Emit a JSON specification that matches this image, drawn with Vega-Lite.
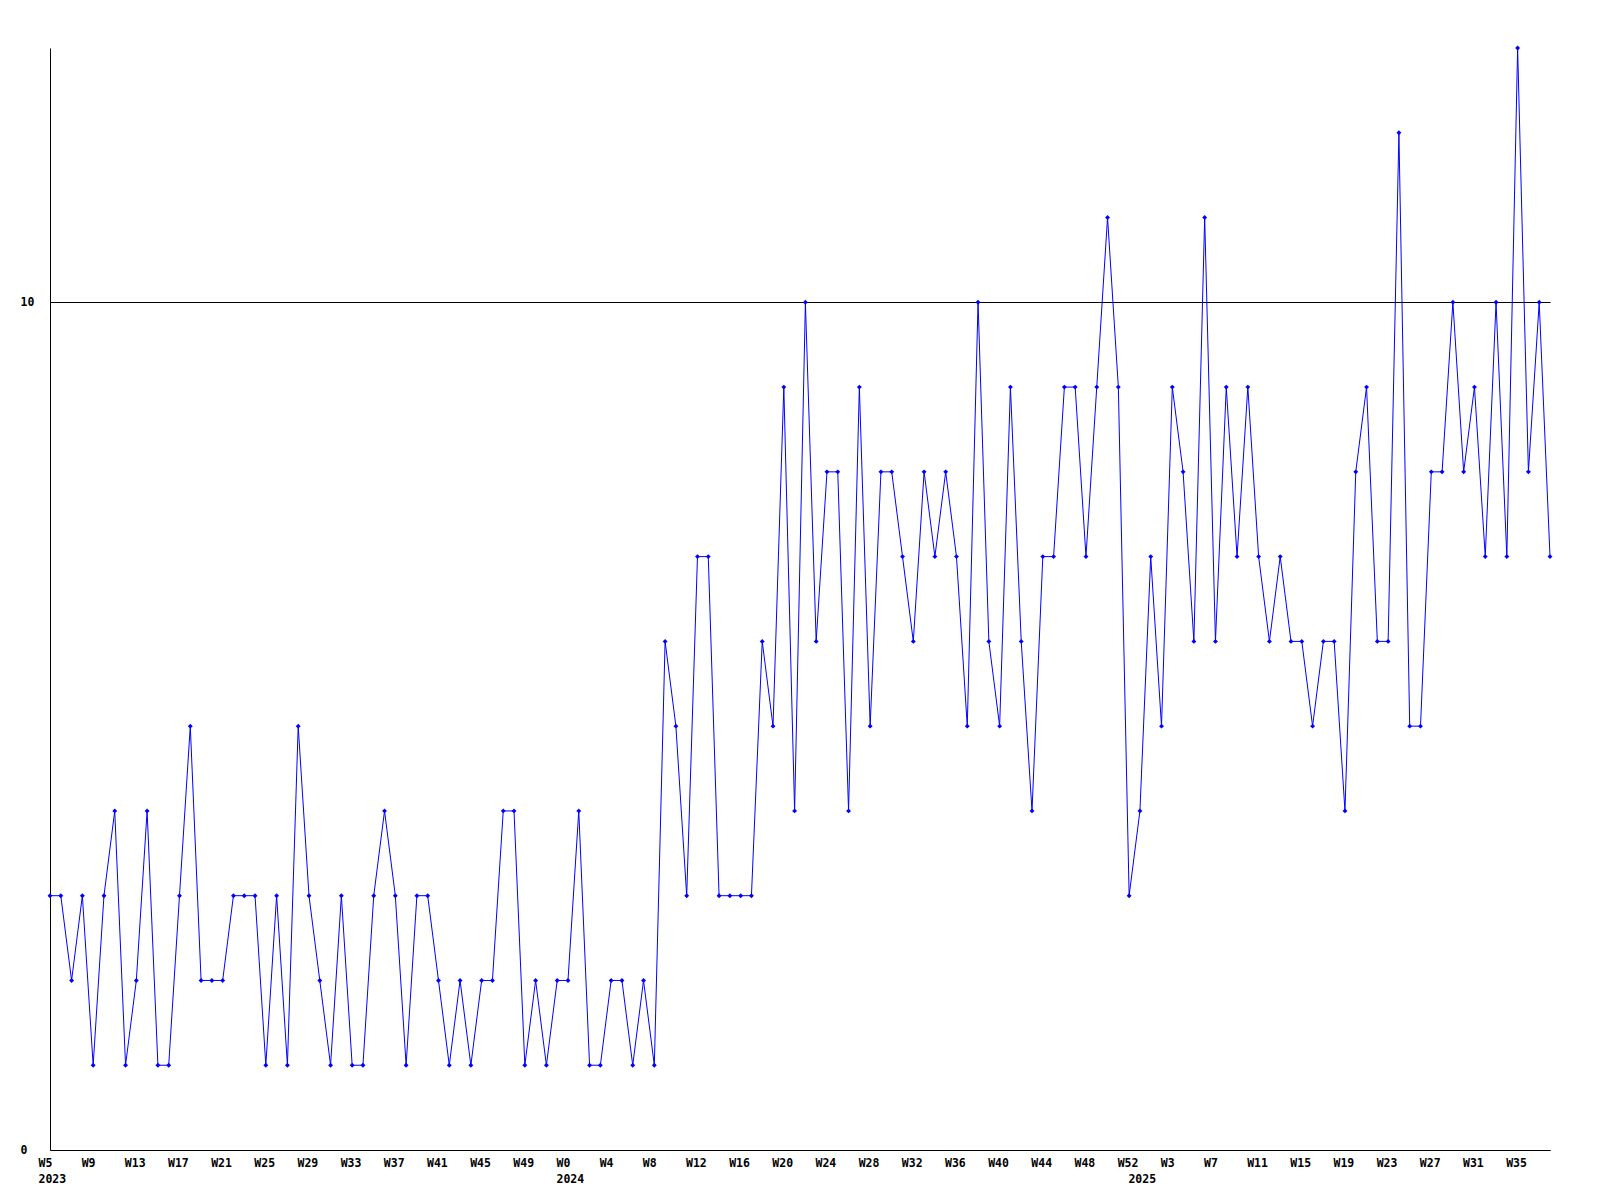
{
  "$schema": "https://vega.github.io/schema/vega-lite/v6.json",
  "autosize": "none",
  "width": 1500,
  "height": 1102,
  "padding": {"left": 50, "top": 48, "right": 50, "bottom": 50},
  "background": "white",
  "config": {"view": {"stroke": null}},
  "data": {"values": [
    {"week":"2023-W05","v":3},{"week":"2023-W06","v":3},{"week":"2023-W07","v":2},{"week":"2023-W08","v":3},{"week":"2023-W09","v":1},
    {"week":"2023-W10","v":3},{"week":"2023-W11","v":4},{"week":"2023-W12","v":1},{"week":"2023-W13","v":2},{"week":"2023-W14","v":4},
    {"week":"2023-W15","v":1},{"week":"2023-W16","v":1},{"week":"2023-W17","v":3},{"week":"2023-W18","v":5},{"week":"2023-W19","v":2},
    {"week":"2023-W20","v":2},{"week":"2023-W21","v":2},{"week":"2023-W22","v":3},{"week":"2023-W23","v":3},{"week":"2023-W24","v":3},
    {"week":"2023-W25","v":1},{"week":"2023-W26","v":3},{"week":"2023-W27","v":1},{"week":"2023-W28","v":5},{"week":"2023-W29","v":3},
    {"week":"2023-W30","v":2},{"week":"2023-W31","v":1},{"week":"2023-W32","v":3},{"week":"2023-W33","v":1},{"week":"2023-W34","v":1},
    {"week":"2023-W35","v":3},{"week":"2023-W36","v":4},{"week":"2023-W37","v":3},{"week":"2023-W38","v":1},{"week":"2023-W39","v":3},
    {"week":"2023-W40","v":3},{"week":"2023-W41","v":2},{"week":"2023-W42","v":1},{"week":"2023-W43","v":2},{"week":"2023-W44","v":1},
    {"week":"2023-W45","v":2},{"week":"2023-W46","v":2},{"week":"2023-W47","v":4},{"week":"2023-W48","v":4},{"week":"2023-W49","v":1},
    {"week":"2023-W50","v":2},{"week":"2023-W51","v":1},{"week":"2023-W52","v":2},
    {"week":"2024-W00","v":2},{"week":"2024-W01","v":4},{"week":"2024-W02","v":1},{"week":"2024-W03","v":1},{"week":"2024-W04","v":2},
    {"week":"2024-W05","v":2},{"week":"2024-W06","v":1},{"week":"2024-W07","v":2},{"week":"2024-W08","v":1},{"week":"2024-W09","v":6},
    {"week":"2024-W10","v":5},{"week":"2024-W11","v":3},{"week":"2024-W12","v":7},{"week":"2024-W13","v":7},{"week":"2024-W14","v":3},
    {"week":"2024-W15","v":3},{"week":"2024-W16","v":3},{"week":"2024-W17","v":3},{"week":"2024-W18","v":6},{"week":"2024-W19","v":5},
    {"week":"2024-W20","v":9},{"week":"2024-W21","v":4},{"week":"2024-W22","v":10},{"week":"2024-W23","v":6},{"week":"2024-W24","v":8},
    {"week":"2024-W25","v":8},{"week":"2024-W26","v":4},{"week":"2024-W27","v":9},{"week":"2024-W28","v":5},{"week":"2024-W29","v":8},
    {"week":"2024-W30","v":8},{"week":"2024-W31","v":7},{"week":"2024-W32","v":6},{"week":"2024-W33","v":8},{"week":"2024-W34","v":7},
    {"week":"2024-W35","v":8},{"week":"2024-W36","v":7},{"week":"2024-W37","v":5},{"week":"2024-W38","v":10},{"week":"2024-W39","v":6},
    {"week":"2024-W40","v":5},{"week":"2024-W41","v":9},{"week":"2024-W42","v":6},{"week":"2024-W43","v":4},{"week":"2024-W44","v":7},
    {"week":"2024-W45","v":7},{"week":"2024-W46","v":9},{"week":"2024-W47","v":9},{"week":"2024-W48","v":7},{"week":"2024-W49","v":9},
    {"week":"2024-W50","v":11},{"week":"2024-W51","v":9},{"week":"2024-W52","v":3},
    {"week":"2025-W00","v":4},{"week":"2025-W01","v":7},{"week":"2025-W02","v":5},{"week":"2025-W03","v":9},{"week":"2025-W04","v":8},
    {"week":"2025-W05","v":6},{"week":"2025-W06","v":11},{"week":"2025-W07","v":6},{"week":"2025-W08","v":9},{"week":"2025-W09","v":7},
    {"week":"2025-W10","v":9},{"week":"2025-W11","v":7},{"week":"2025-W12","v":6},{"week":"2025-W13","v":7},{"week":"2025-W14","v":6},
    {"week":"2025-W15","v":6},{"week":"2025-W16","v":5},{"week":"2025-W17","v":6},{"week":"2025-W18","v":6},{"week":"2025-W19","v":4},
    {"week":"2025-W20","v":8},{"week":"2025-W21","v":9},{"week":"2025-W22","v":6},{"week":"2025-W23","v":6},{"week":"2025-W24","v":12},
    {"week":"2025-W25","v":5},{"week":"2025-W26","v":5},{"week":"2025-W27","v":8},{"week":"2025-W28","v":8},{"week":"2025-W29","v":10},
    {"week":"2025-W30","v":8},{"week":"2025-W31","v":9},{"week":"2025-W32","v":7},{"week":"2025-W33","v":10},{"week":"2025-W34","v":7},
    {"week":"2025-W35","v":13},{"week":"2025-W36","v":8},{"week":"2025-W37","v":10},{"week":"2025-W38","v":7}
  ]},
  "mark": {
    "type": "line",
    "color": "#0000ff",
    "strokeWidth": 1,
    "point": {"shape": "diamond", "size": 24, "filled": true, "color": "#0000ff"}
  },
  "encoding": {
    "x": {
      "field": "week",
      "type": "ordinal",
      "scale": {"type": "point", "padding": 0},
      "axis": {
        "title": null,
        "values": ["2023-W05","2023-W09","2023-W13","2023-W17","2023-W21","2023-W25","2023-W29","2023-W33","2023-W37","2023-W41","2023-W45","2023-W49",
                   "2024-W00","2024-W04","2024-W08","2024-W12","2024-W16","2024-W20","2024-W24","2024-W28","2024-W32","2024-W36","2024-W40","2024-W44","2024-W48","2024-W52",
                   "2025-W00","2025-W03","2025-W07","2025-W11","2025-W15","2025-W19","2025-W23","2025-W27","2025-W31","2025-W35"],
        "labelExpr": "datum.value == '2023-W05' ? ['W5','2023'] : datum.value == '2024-W00' ? ['W0','2024'] : datum.value == '2025-W00' ? ['','2025'] : 'W' + parseInt(slice(datum.value, 6))",
        "labelAngle": 0,
        "labelAlign": "left",
        "labelOffset": -12,
        "labelBaseline": "top",
        "labelPadding": 7,
        "labelLineHeight": 16,
        "labelOverlap": false,
        "labelBound": false,
        "labelFlush": false,
        "labelFont": "DejaVu Sans Mono",
        "labelFontWeight": "bold",
        "labelFontSize": 11.5,
        "labelColor": "#000000",
        "ticks": false,
        "tickSize": 0,
        "grid": false,
        "domainColor": "#000000",
        "domainWidth": 1
      }
    },
    "y": {
      "field": "v",
      "type": "quantitative",
      "scale": {"domain": [0, 13], "nice": false, "zero": true},
      "axis": {
        "title": null,
        "values": [0, 10],
        "labelAlign": "left",
        "labelBaseline": "middle",
        "labelPadding": 30,
        "labelFont": "DejaVu Sans Mono",
        "labelFontWeight": "bold",
        "labelFontSize": 11.5,
        "labelColor": "#000000",
        "ticks": false,
        "tickSize": 0,
        "grid": true,
        "gridColor": "#000000",
        "gridOpacity": 1,
        "gridWidth": 1,
        "domainColor": "#000000",
        "domainWidth": 1
      }
    }
  }
}
